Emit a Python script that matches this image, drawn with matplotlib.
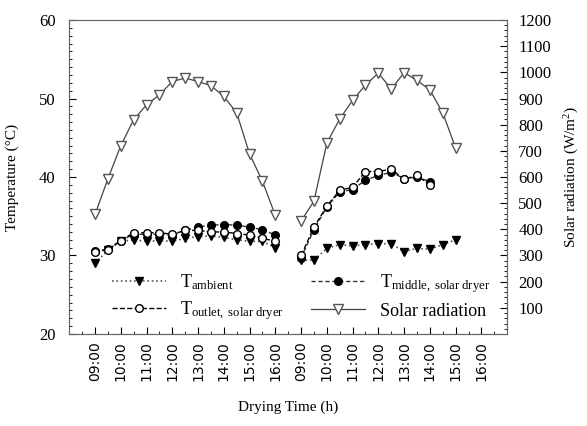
import numpy as np
import matplotlib.pyplot as plt
from matplotlib.ticker import MultipleLocator

plt.rcParams['font.family'] = 'Liberation Serif'
plt.rcParams['mathtext.fontset'] = 'custom'
plt.rcParams['mathtext.rm'] = 'Liberation Serif'
plt.rcParams['mathtext.it'] = 'Liberation Serif:italic'

# hour slots: day 1 = 0..7 (09:00-16:00), day 2 = 8..15
tick_labels = ['09:00', '10:00', '11:00', '12:00', '13:00', '14:00', '15:00', '16:00'] * 2

# day 1, half-hourly 09:00-16:00
t1 = np.arange(0, 7.01, 0.5)
amb1 = [29.0, 30.7, 31.8, 32.0, 31.8, 31.9, 31.8, 32.2, 32.4, 32.5, 32.3, 32.0, 31.8, 31.8, 31.0]
out1 = [30.5, 30.7, 31.9, 32.9, 32.9, 32.9, 32.7, 33.2, 33.2, 33.0, 33.0, 32.8, 32.6, 32.2, 31.8]
mid1 = [30.6, 30.8, 31.9, 32.7, 32.7, 32.7, 32.6, 33.2, 33.6, 33.9, 33.9, 33.9, 33.6, 33.3, 32.6]
sol1 = [457, 593, 720, 819, 876, 914, 965, 978, 965, 949, 908, 845, 688, 584, 453]

# day 2
t2 = np.arange(8, 14.01, 0.5)        # 09:00-15:00
t2b = np.arange(8, 13.01, 0.5)       # 09:00-14:00
amb2 = [29.4, 29.4, 30.9, 31.4, 31.2, 31.4, 31.5, 31.5, 30.5, 30.9, 30.8, 31.4, 32.0]
out2 = [30.0, 33.6, 36.3, 38.3, 38.7, 40.7, 40.7, 41.0, 39.7, 40.2, 39.0]
mid2 = [29.7, 33.3, 36.2, 38.1, 38.4, 39.6, 40.2, 40.6, 39.8, 40.0, 39.4]
sol2 = [432, 508, 730, 822, 893, 952, 997, 936, 999, 969, 933, 845, 711]

fig = plt.figure(figsize=(5.87, 4.26), dpi=100)
ax = fig.add_axes([0.118, 0.216, 0.746, 0.737])
ax2 = ax.twinx()

amb_kw = dict(color='#555555', ls=':', lw=1.2, marker='v', ms=5.5, mfc='black', mec='black')
out_kw = dict(color='black', ls='--', lw=1.0, marker='o', ms=5.5, mfc='white', mec='black')
mid_kw = dict(color='#333333', ls=(0, (3, 2)), lw=1.0, marker='o', ms=5.5, mfc='black', mec='black')
sol_kw = dict(color='#444444', ls='-', lw=0.9, marker='v', ms=6.5, mfc='white', mec='#555555')

h_amb, = ax.plot(t1, amb1, label=r'T$_{\mathrm{ambient}}$', **amb_kw)
ax.plot(t2, amb2, **amb_kw)
h_mid, = ax.plot(t1, mid1, label=r'T$_{\mathrm{middle,\ solar\ dryer}}$', **mid_kw)
ax.plot(t2b, mid2, **mid_kw)
h_out, = ax.plot(t1, out1, label=r'T$_{\mathrm{outlet,\ solar\ dryer}}$', **out_kw)
ax.plot(t2b, out2, **out_kw)
h_sol, = ax2.plot(t1, sol1, label='Solar radiation', **sol_kw)
ax2.plot(t2, sol2, **sol_kw)

ax.set_xlim(-1, 16)
ax.set_ylim(20, 60)
ax2.set_ylim(0, 1200)

ax.set_xticks(np.arange(16))
ax.set_xticklabels(tick_labels, rotation=90, family='DejaVu Sans', fontsize=10)
ax.xaxis.set_minor_locator(MultipleLocator(0.5))
ax.set_yticks([20, 30, 40, 50, 60])
ax.yaxis.set_minor_locator(MultipleLocator(1))
ax2.set_yticks(np.arange(100, 1201, 100))
ax2.yaxis.set_minor_locator(MultipleLocator(20))

for a in (ax, ax2):
    a.tick_params(which='both', direction='in')
    a.tick_params(which='major', length=5, width=0.8)
    a.tick_params(which='minor', length=2.5, width=0.6)
    for s in a.spines.values():
        s.set_color('#666666')
ax.tick_params(axis='x', labelsize=10, pad=5)
ax.tick_params(axis='y', labelsize=12, pad=10)
ax2.tick_params(axis='y', labelsize=12, pad=8)

ax.set_xlabel('Drying Time (h)', fontsize=11, labelpad=14)
ax.set_ylabel('Temperature (°C)', fontsize=11, labelpad=14)
ax2.set_ylabel(r'Solar radiation (W/m$^2$)', fontsize=11, labelpad=8)

leg = ax.legend([h_amb, h_out, h_mid, h_sol],
                [h_amb.get_label(), h_out.get_label(), h_mid.get_label(), h_sol.get_label()],
                ncol=2, frameon=False, loc='lower left', bbox_to_anchor=(0.06, -0.015),
                fontsize=13, handlelength=3, columnspacing=1.5, labelspacing=0.4)
ax.set_zorder(ax2.get_zorder() + 1)
ax.patch.set_visible(False)

plt.savefig('out.png', dpi=100)
